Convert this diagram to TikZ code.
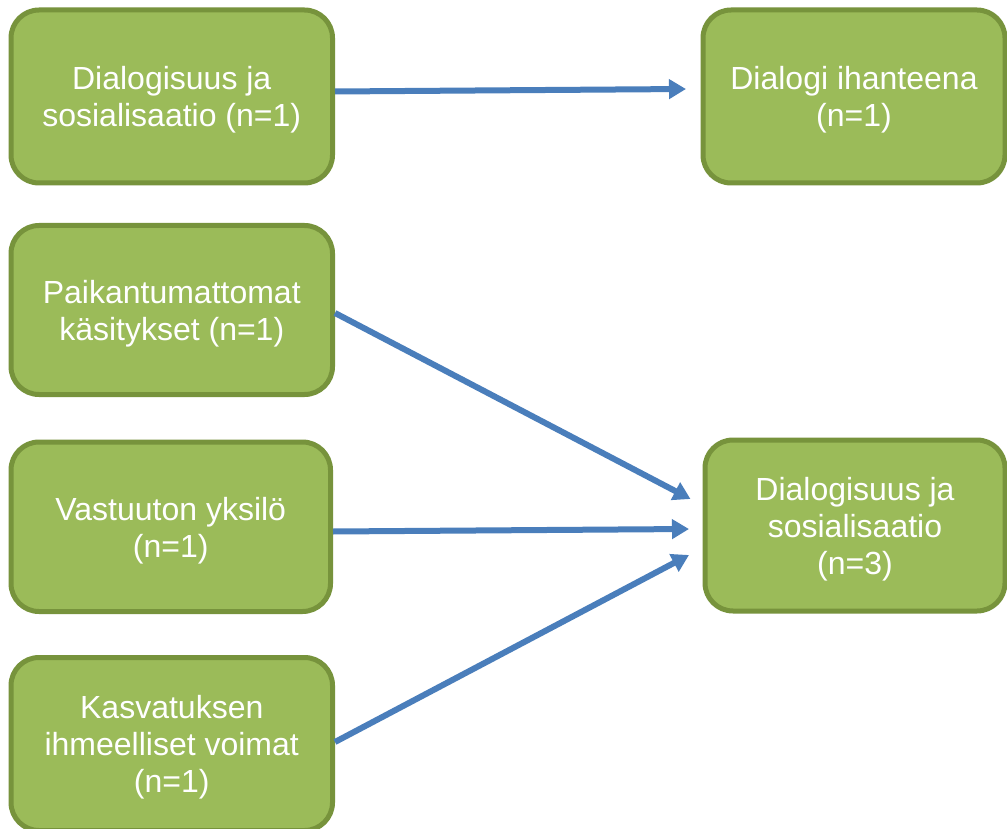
\documentclass[tikz,border=0pt]{standalone}
\usepackage{fontspec}
\setmainfont{Liberation Sans}
\usetikzlibrary{arrows.meta}
\definecolor{boxfill}{HTML}{9BBB59}
\definecolor{boxedge}{HTML}{77933C}
\definecolor{arrowblue}{HTML}{4A7EBB}
\tikzset{
  catbox/.style={draw=boxedge, line width=5pt, fill=boxfill, rounded corners=28pt, inner sep=0pt},
  boxtext/.style={text=white, align=center, font=\fontsize{32}{37}\selectfont, inner sep=0pt},
  link/.style={draw=arrowblue, line width=6pt, -{Triangle[length=17pt,width=19pt]}}
}
\begin{document}
\begin{tikzpicture}[x=1pt,y=-1pt]
\useasboundingbox (0,0) rectangle (1007,829);
\clip (0,0) rectangle (1007,829);
\fill[white] (0,0) rectangle (1007,829);
\node[catbox, minimum width=321.5pt, minimum height=173pt] (b1) at (171.75,96.5) {};
\node[catbox, minimum width=302pt, minimum height=173pt] (b2) at (854,96.5) {};
\node[catbox, minimum width=321.5pt, minimum height=169pt] (b3) at (171.75,310) {};
\node[catbox, minimum width=319.5pt, minimum height=169.5pt] (b4) at (170.75,526.75) {};
\node[catbox, minimum width=321.5pt, minimum height=173pt] (b5) at (171.75,744) {};
\node[catbox, minimum width=300pt, minimum height=171pt] (b6) at (855,525.5) {};
\node[boxtext] (b1t) at ([yshift=-3.5pt]b1.center) {Dialogisuus ja\\sosialisaatio (n=1)};
\node[boxtext] (b2t) at ([yshift=-3.5pt]b2.center) {Dialogi ihanteena\\(n=1)};
\node[boxtext] (b3t) at ([yshift=-3.5pt]b3.center) {Paikantumattomat\\käsitykset (n=1)};
\node[boxtext] (b4t) at ([yshift=-3.5pt]b4.center) {Vastuuton yksilö\\(n=1)};
\node[boxtext] (b5t) at ([yshift=-3.5pt]b5.center) {Kasvatuksen\\ihmeelliset voimat\\(n=1)};
\node[boxtext] (b6t) at ([yshift=-3.5pt]b6.center) {Dialogisuus ja\\sosialisaatio\\(n=3)};
\coordinate (t1) at (686,89);
\coordinate (t2) at (690.5,499);
\coordinate (t3) at (689,529);
\coordinate (t4) at (689,555);
\draw[link] ([yshift=5pt]b1.east) -- (t1);
\draw[link] ([yshift=-3pt]b3.east) -- (t2);
\draw[link] ([yshift=-4.75pt]b4.east) -- (t3);
\draw[link] ([yshift=2pt]b5.east) -- (t4);
\end{tikzpicture}
\end{document}
